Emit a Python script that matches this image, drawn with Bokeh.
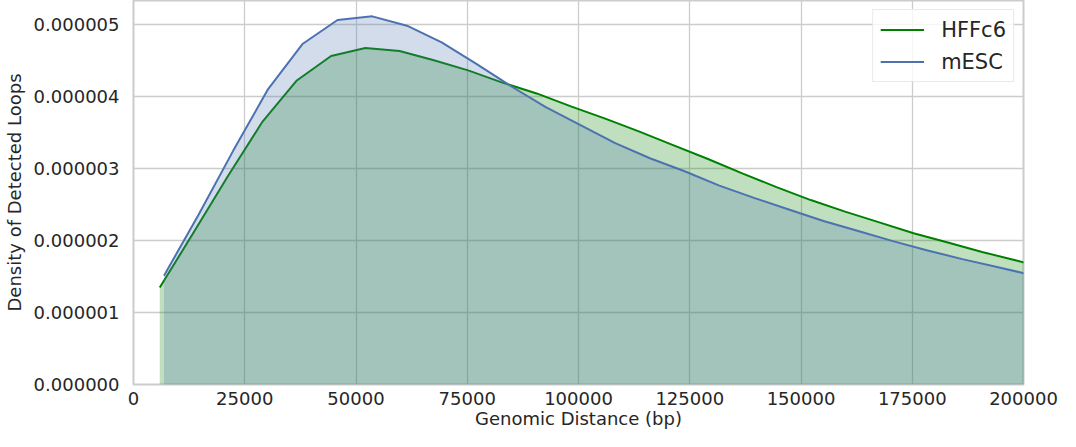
from bokeh.plotting import figure
from bokeh.models import Range1d, FixedTicker, PrintfTickFormatter, Legend, LegendItem
from bokeh.embed import file_html
from bokeh.resources import INLINE

# HFFc6 KDE curve (genomic distance in bp, density)
hffc6_x = [5900, 13600, 21300, 29000, 36700, 44400, 52100, 59800, 67500, 75200,
           82900, 90600, 98300, 106000, 113700, 121400, 129100, 136800, 144500,
           152200, 159900, 167600, 175300, 183000, 190700, 198400, 206100]
hffc6_y = [1.345e-6, 2.12e-6, 2.90e-6, 3.65e-6, 4.22e-6, 4.56e-6, 4.67e-6, 4.63e-6,
           4.50e-6, 4.36e-6, 4.19e-6, 4.04e-6, 3.86e-6, 3.69e-6, 3.51e-6, 3.32e-6,
           3.13e-6, 2.93e-6, 2.74e-6, 2.56e-6, 2.40e-6, 2.25e-6, 2.10e-6, 1.97e-6,
           1.84e-6, 1.72e-6, 1.60e-6]

# mESC KDE curve
mesc_x = [6850, 14650, 22450, 30250, 38050, 45850, 53650, 61450, 69250, 77050,
          84850, 92650, 100450, 108250, 116050, 123850, 131650, 139450, 147250,
          155050, 162850, 170650, 178450, 186250, 194050, 201850]
mesc_y = [1.51e-6, 2.36e-6, 3.25e-6, 4.10e-6, 4.73e-6, 5.06e-6, 5.11e-6, 4.98e-6,
          4.75e-6, 4.45e-6, 4.14e-6, 3.85e-6, 3.60e-6, 3.35e-6, 3.14e-6, 2.96e-6,
          2.76e-6, 2.59e-6, 2.43e-6, 2.27e-6, 2.13e-6, 1.99e-6, 1.86e-6, 1.74e-6,
          1.63e-6, 1.52e-6]

series_names = ["HFFc6", "mESC"]
series_colors = ["#008000", "#4c72b0"]

x_ticks = [0, 25000, 50000, 75000, 100000, 125000, 150000, 175000, 200000]
y_ticks = [0, 1e-6, 2e-6, 3e-6, 4e-6, 5e-6]
x_label = "Genomic Distance (bp)"
y_label = "Density of Detected Loops"

FONT = "DejaVu Sans"
TXT = "#262626"

p = figure(width=1060, height=431, output_backend="svg", toolbar_location=None,
           x_range=Range1d(0, 200000), y_range=Range1d(0, 5.33e-6),
           min_border_left=129, min_border_right=37, min_border_top=0,
           min_border_bottom=40)

p.background_fill_color = "white"
p.border_fill_color = "white"
p.outline_line_color = "#cccccc"
p.outline_line_width = 2

for ax in (p.xaxis[0], p.yaxis[0]):
    ax.axis_line_color = None
    ax.major_tick_line_color = None
    ax.minor_tick_line_color = None
    ax.major_tick_out = 0
    ax.major_tick_in = 0
    ax.minor_tick_out = 0
    ax.minor_tick_in = 0
    ax.major_label_text_font = FONT
    ax.major_label_text_font_size = "18px"
    ax.major_label_text_color = TXT
    ax.axis_label_text_font = FONT
    ax.axis_label_text_font_size = "18px"
    ax.axis_label_text_font_style = "normal"
    ax.axis_label_text_color = TXT

p.xaxis[0].ticker = FixedTicker(ticks=x_ticks)
p.xaxis[0].formatter = PrintfTickFormatter(format="%d")
p.xaxis[0].axis_label = x_label
p.xaxis[0].major_label_standoff = 7
p.xaxis[0].axis_label_standoff = 0

p.yaxis[0].ticker = FixedTicker(ticks=y_ticks)
p.yaxis[0].formatter = PrintfTickFormatter(format="%.6f")
p.yaxis[0].axis_label = y_label
p.yaxis[0].major_label_standoff = 14
p.yaxis[0].axis_label_standoff = 6

p.xgrid.grid_line_color = "#cccccc"
p.ygrid.grid_line_color = "#cccccc"
p.xgrid.grid_line_width = 1.3
p.ygrid.grid_line_width = 1.3

items = []
for xs, ys, name, col in [(hffc6_x, hffc6_y, series_names[0], series_colors[0]),
                          (mesc_x, mesc_y, series_names[1], series_colors[1])]:
    p.varea(x=xs, y1=[0] * len(xs), y2=ys, fill_color=col, fill_alpha=0.25)
    r = p.line(xs, ys, line_color=col, line_width=2)
    items.append(LegendItem(label=name, renderers=[r]))

legend = Legend(items=items, location="top_right")
legend.label_text_font = FONT
legend.label_text_font_size = "21px"
legend.label_text_color = TXT
legend.glyph_width = 44
legend.glyph_height = 25
legend.label_height = 25
legend.label_standoff = 17
legend.spacing = 7
legend.padding = 7
legend.margin = 9
legend.border_line_color = "#d6d6d6"
legend.border_line_width = 1
legend.background_fill_color = "white"
legend.background_fill_alpha = 0.8
p.add_layout(legend)

open("out.html", "w").write(file_html(p, INLINE))
